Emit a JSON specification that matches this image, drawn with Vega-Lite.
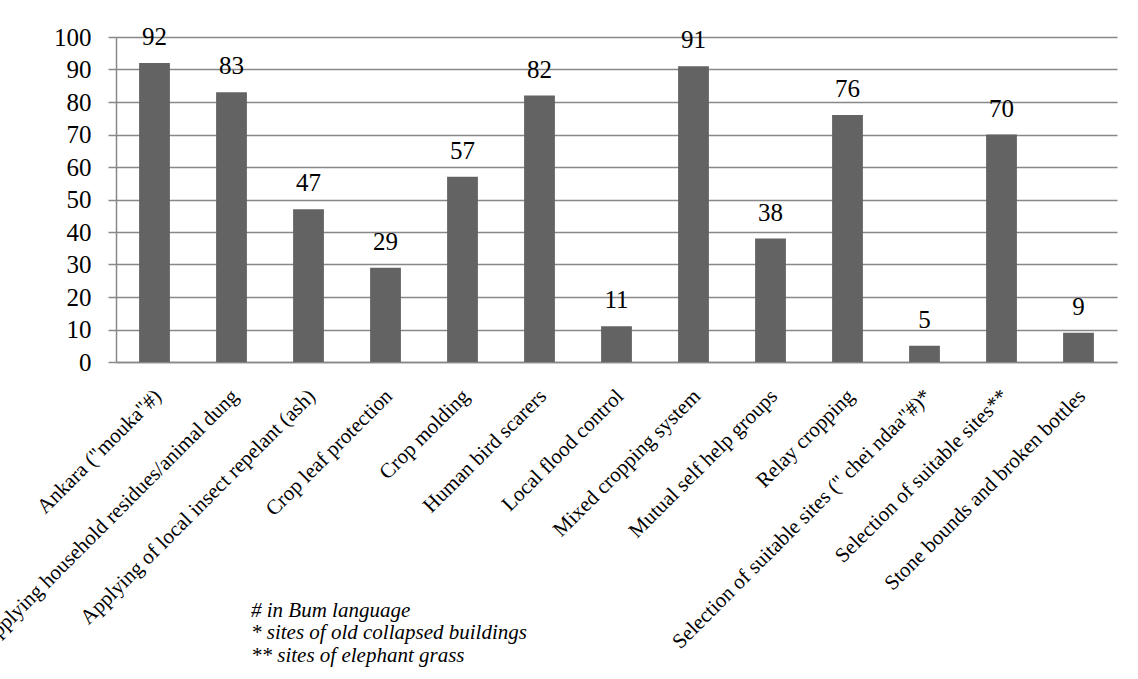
{
  "$schema": "https://vega.github.io/schema/vega-lite/v6.json",
  "width": 1001,
  "height": 325,
  "autosize": {"type": "none"},
  "padding": {"left": 116, "top": 37, "right": 21, "bottom": 317},
  "background": "white",
  "data": {"values": [
    {"practice": "Ankara (\"mouka\"#)", "value": 92},
    {"practice": "Applying household residues/animal dung", "value": 83},
    {"practice": "Applying of local insect repelant (ash)", "value": 47},
    {"practice": "Crop leaf protection", "value": 29},
    {"practice": "Crop molding", "value": 57},
    {"practice": "Human bird scarers", "value": 82},
    {"practice": "Local flood control", "value": 11},
    {"practice": "Mixed cropping system", "value": 91},
    {"practice": "Mutual self help groups", "value": 38},
    {"practice": "Relay cropping", "value": 76},
    {"practice": "Selection of suitable sites (\" chei ndaa\"#)*", "value": 5},
    {"practice": "Selection of suitable sites**", "value": 70},
    {"practice": "Stone bounds and broken bottles", "value": 9}
  ]},
  "title": {
    "text": ["# in Bum language", "* sites of old collapsed buildings", "** sites of elephant grass"],
    "orient": "bottom",
    "anchor": "start",
    "frame": "group",
    "dx": 135,
    "offset": -52,
    "font": "Liberation Serif",
    "fontStyle": "italic",
    "fontWeight": "normal",
    "fontSize": 21,
    "lineHeight": 22.5,
    "color": "black"
  },
  "encoding": {
    "x": {
      "field": "practice",
      "type": "nominal",
      "sort": null,
      "scale": {"paddingInner": 0.6, "paddingOuter": 0.3},
      "axis": {
        "title": null,
        "labelAngle": -45,
        "labelFont": "Liberation Serif",
        "labelFontSize": 21,
        "labelColor": "black",
        "labelLimit": 0,
        "labelPadding": 23,
        "labelOffset": -4,
        "ticks": false,
        "domainColor": "#888888",
        "domainWidth": 1.5
      }
    },
    "y": {
      "field": "value",
      "type": "quantitative",
      "scale": {"domain": [0, 100]},
      "axis": {
        "title": null,
        "values": [0, 10, 20, 30, 40, 50, 60, 70, 80, 90, 100],
        "labelFont": "Liberation Serif",
        "labelFontSize": 25,
        "labelColor": "black",
        "labelPadding": 17,
        "tickSize": 8,
        "tickColor": "#888888",
        "tickWidth": 1.5,
        "domainColor": "#888888",
        "domainWidth": 1.5,
        "gridColor": "#888888",
        "gridWidth": 1.5,
        "gridOpacity": 1
      }
    }
  },
  "layer": [
    {"mark": {"type": "bar", "color": "#636363"}},
    {
      "mark": {"type": "text", "baseline": "alphabetic", "dy": -18, "font": "Liberation Serif", "fontSize": 25, "color": "black"},
      "encoding": {"text": {"field": "value", "type": "quantitative"}}
    }
  ],
  "config": {"view": {"stroke": null}}
}
